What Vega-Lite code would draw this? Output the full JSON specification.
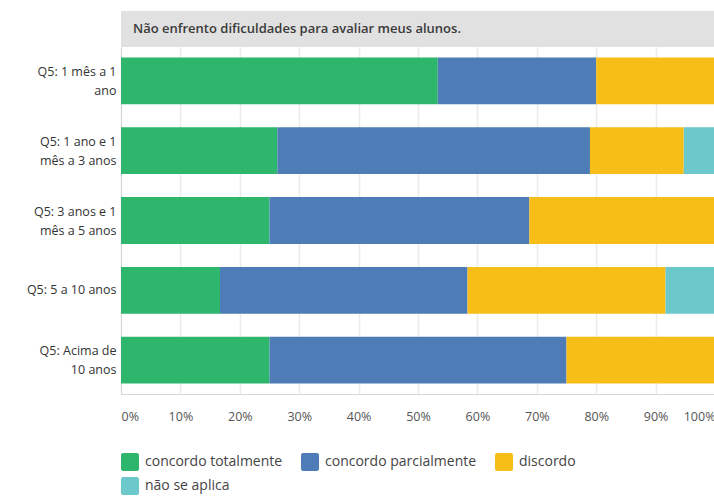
{
  "$schema": "https://vega.github.io/schema/vega-lite/v6.json",
  "padding": {"top": 11, "left": 5, "right": 0, "bottom": 5},
  "background": "white",
  "bounds": "flush",
  "spacing": 0,
  "config": {
    "font": "Open Sans",
    "view": {"stroke": null},
    "axis": {"labelFont": "Open Sans", "ticks": false, "titleFontSize": 12}
  },
  "datasets": {
    "respostas": [
      {"faixa": "Q5: 1 mês a 1 ano", "resposta": "concordo totalmente", "ordem": 1, "pct": 53.33},
      {"faixa": "Q5: 1 mês a 1 ano", "resposta": "concordo parcialmente", "ordem": 2, "pct": 26.67},
      {"faixa": "Q5: 1 mês a 1 ano", "resposta": "discordo", "ordem": 3, "pct": 20.0},
      {"faixa": "Q5: 1 mês a 1 ano", "resposta": "não se aplica", "ordem": 4, "pct": 0},
      {"faixa": "Q5: 1 ano e 1 mês a 3 anos", "resposta": "concordo totalmente", "ordem": 1, "pct": 26.32},
      {"faixa": "Q5: 1 ano e 1 mês a 3 anos", "resposta": "concordo parcialmente", "ordem": 2, "pct": 52.63},
      {"faixa": "Q5: 1 ano e 1 mês a 3 anos", "resposta": "discordo", "ordem": 3, "pct": 15.79},
      {"faixa": "Q5: 1 ano e 1 mês a 3 anos", "resposta": "não se aplica", "ordem": 4, "pct": 5.26},
      {"faixa": "Q5: 3 anos e 1 mês a 5 anos", "resposta": "concordo totalmente", "ordem": 1, "pct": 25.0},
      {"faixa": "Q5: 3 anos e 1 mês a 5 anos", "resposta": "concordo parcialmente", "ordem": 2, "pct": 43.75},
      {"faixa": "Q5: 3 anos e 1 mês a 5 anos", "resposta": "discordo", "ordem": 3, "pct": 31.25},
      {"faixa": "Q5: 3 anos e 1 mês a 5 anos", "resposta": "não se aplica", "ordem": 4, "pct": 0},
      {"faixa": "Q5: 5 a 10 anos", "resposta": "concordo totalmente", "ordem": 1, "pct": 16.67},
      {"faixa": "Q5: 5 a 10 anos", "resposta": "concordo parcialmente", "ordem": 2, "pct": 41.67},
      {"faixa": "Q5: 5 a 10 anos", "resposta": "discordo", "ordem": 3, "pct": 33.33},
      {"faixa": "Q5: 5 a 10 anos", "resposta": "não se aplica", "ordem": 4, "pct": 8.33},
      {"faixa": "Q5: Acima de 10 anos", "resposta": "concordo totalmente", "ordem": 1, "pct": 25.0},
      {"faixa": "Q5: Acima de 10 anos", "resposta": "concordo parcialmente", "ordem": 2, "pct": 50.0},
      {"faixa": "Q5: Acima de 10 anos", "resposta": "discordo", "ordem": 3, "pct": 25.0},
      {"faixa": "Q5: Acima de 10 anos", "resposta": "não se aplica", "ordem": 4, "pct": 0}
    ],
    "cabecalho": [
      {"titulo": "Não enfrento dificuldades para avaliar meus alunos."}
    ]
  },
  "resolve": {"scale": {"x": "independent"}},
  "vconcat": [
    {
      "width": 594,
      "height": 36,
      "view": {"fill": "#e1e1e1", "stroke": null},
      "data": {"name": "cabecalho"},
      "mark": {"type": "text", "align": "left", "baseline": "middle", "dx": 12, "font": "Open Sans", "fontSize": 13, "fontWeight": 600, "color": "#3a3a3a"},
      "encoding": {
        "x": {"datum": 0, "type": "quantitative", "scale": {"domain": [0, 1]}, "axis": null},
        "text": {"field": "titulo", "type": "nominal"}
      }
    },
    {
      "width": 594,
      "height": 347,
      "data": {"name": "respostas"},
      "mark": {"type": "bar"},
      "encoding": {
        "y": {
          "field": "faixa",
          "type": "nominal",
          "sort": null,
          "title": null,
          "scale": {"paddingInner": 0.33, "paddingOuter": 0.15},
          "axis": {
            "minExtent": 116,
            "labelPadding": 5,
            "labelFontSize": 12.5,
            "labelColor": "#333333",
            "labelLineHeight": 19,
            "labelOffset": {"condition": {"test": "datum.value == 'Q5: 5 a 10 anos'", "value": 0}, "value": -9},
            "domain": true,
            "domainColor": "#d6d6d6",
            "labelExpr": "datum.label == 'Q5: 1 mês a 1 ano' ? ['Q5: 1 mês a 1', 'ano'] : datum.label == 'Q5: 1 ano e 1 mês a 3 anos' ? ['Q5: 1 ano e 1', 'mês a 3 anos'] : datum.label == 'Q5: 3 anos e 1 mês a 5 anos' ? ['Q5: 3 anos e 1', 'mês a 5 anos'] : datum.label == 'Q5: Acima de 10 anos' ? ['Q5: Acima de', '10 anos'] : datum.label"
          }
        },
        "x": {
          "field": "pct",
          "type": "quantitative",
          "stack": "normalize",
          "title": null,
          "scale": {"domain": [0, 1], "nice": false},
          "axis": {
            "values": [0, 0.1, 0.2, 0.3, 0.4, 0.5, 0.6, 0.7, 0.8, 0.9, 1],
            "format": ".0%",
            "labelFlush": true,
            "labelPadding": 16,
            "labelFontSize": 12.5,
            "labelColor": "#555555",
            "grid": true,
            "gridColor": "#ebebeb",
            "gridWidth": 1.5,
            "domainColor": "#d6d6d6"
          }
        },
        "color": {
          "field": "resposta",
          "type": "nominal",
          "scale": {
            "domain": ["concordo totalmente", "concordo parcialmente", "discordo", "não se aplica"],
            "range": ["#2eb66c", "#4e7cb6", "#f7be17", "#6bc8cb"]
          },
          "legend": {
            "title": null,
            "orient": "bottom",
            "direction": "horizontal",
            "columns": 3,
            "gridAlign": "none",
            "offset": 30,
            "symbolType": "M-1,-0.75Q-1,-1,-0.75,-1L0.75,-1Q1,-1,1,-0.75L1,0.75Q1,1,0.75,1L-0.75,1Q-1,1,-1,0.75Z",
            "symbolSize": 324,
            "symbolStrokeWidth": 0,
            "symbolOpacity": 1,
            "labelFont": "Open Sans",
            "labelFontSize": 14,
            "labelColor": "#444444",
            "labelOffset": 6,
            "columnPadding": 18,
            "rowPadding": 6
          }
        },
        "order": {"field": "ordem", "type": "quantitative"}
      }
    }
  ]
}
